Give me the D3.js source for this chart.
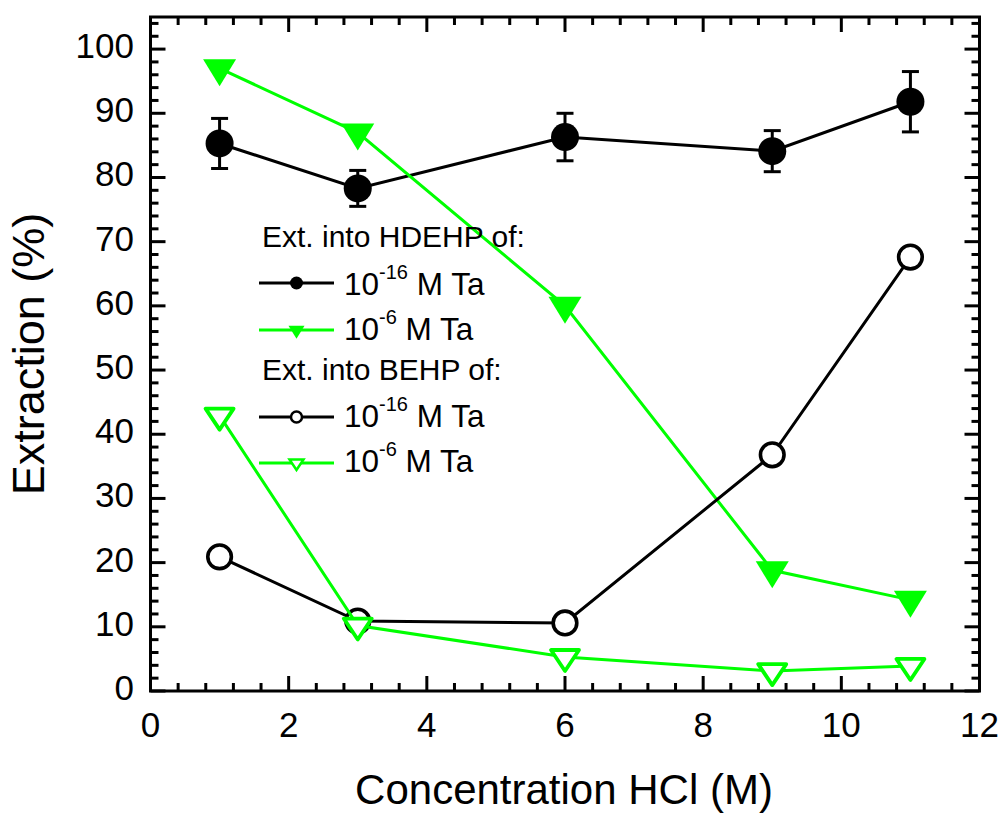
<!DOCTYPE html>
<html><head><meta charset="utf-8">
<script src="https://cdn.jsdelivr.net/npm/d3@7"></script>
<style>
body{margin:0;background:#fff}
svg{display:block}
text{font-family:"Liberation Sans",Arial,Helvetica,sans-serif;fill:#000}
</style>
</head><body>
<svg id="chart" width="1005" height="815"></svg>
<script>
// HCl concentration (M) for every series
const hcl = [1, 3, 6, 9, 11];
// Extraction into HDEHP, carrier-free (1e-16 M) Ta, with error
const hdehpTrace = [85.3, 78.3, 86.3, 84.1, 91.8];
const hdehpTraceErr = [3.9, 2.8, 3.7, 3.2, 4.7];
// Extraction into HDEHP, 1e-6 M Ta
const hdehpMacro = [97.0, 87.0, 60.0, 18.8, 14.2];
// Extraction into BEHP, 1e-16 M Ta
const behpTrace = [20.9, 10.9, 10.6, 36.8, 67.6];
// Extraction into BEHP, 1e-6 M Ta
const behpMacro = [42.9, 10.2, 5.3, 3.1, 3.9];

const xTicks = [0, 2, 4, 6, 8, 10, 12];
const yTicks = [0, 10, 20, 30, 40, 50, 60, 70, 80, 90, 100];
const xLabel = "Concentration HCl (M)";
const yLabel = "Extraction (%)";

const GREEN = "#00ff00";
const svg = d3.select("#chart");

const L = 150.5, R = 979.5, T = 17, B = 691;
const x = d3.scaleLinear().domain([0, 12]).range([L, R]);
const y = d3.scaleLinear().domain([0, 105]).range([B, T]);

// ---- ticks (inward on all four sides) ----
const xMinor = d3.range(0, 12.001, 0.4).map(v => +v.toFixed(2));
const yMinor = d3.range(0, 105, 2);
const tickG = svg.append("g").attr("stroke", "#000").attr("stroke-width", 3);
function isMajorX(v){ return xTicks.some(t => Math.abs(t - v) < 1e-6); }
function isMajorY(v){ return yTicks.some(t => Math.abs(t - v) < 1e-6); }
xMinor.forEach(v => {
  const len = isMajorX(v) ? 15 : 8;
  tickG.append("line").attr("x1", x(v)).attr("x2", x(v)).attr("y1", B).attr("y2", B - len);
  tickG.append("line").attr("x1", x(v)).attr("x2", x(v)).attr("y1", T).attr("y2", T + len);
});
yMinor.forEach(v => {
  const len = isMajorY(v) ? 15 : 8;
  tickG.append("line").attr("y1", y(v)).attr("y2", y(v)).attr("x1", L).attr("x2", L + len);
  tickG.append("line").attr("y1", y(v)).attr("y2", y(v)).attr("x1", R).attr("x2", R - len);
});

// frame
svg.append("rect").attr("x", L).attr("y", T).attr("width", R - L).attr("height", B - T)
  .attr("fill", "none").attr("stroke", "#000").attr("stroke-width", 3);

// tick labels
svg.append("g").selectAll("text").data(xTicks).join("text")
  .attr("x", d => x(d)).attr("y", 737).attr("text-anchor", "middle")
  .attr("font-size", 35).text(d => d);
svg.append("g").selectAll("text").data(yTicks).join("text")
  .attr("x", 134).attr("y", d => y(d) + 9).attr("text-anchor", "end")
  .attr("font-size", 35).text(d => d);

// axis titles
svg.append("text").attr("x", 564).attr("y", 804).attr("text-anchor", "middle")
  .attr("font-size", 42).text(xLabel);
svg.append("text").attr("transform", `translate(44,${(T + B) / 2}) rotate(-90)`)
  .attr("text-anchor", "middle").attr("font-size", 45).text(yLabel);

// ---- markers ----
function downTri(cx, cy, hw, h){
  // centroid placed on the data point
  const top = cy - h / 3, apex = cy + 2 * h / 3;
  return `M${cx - hw},${top}L${cx + hw},${top}L${cx},${apex}Z`;
}
const line = d3.line().x(d => x(d[0])).y(d => y(d[1]));
const pts = vals => hcl.map((h, i) => [h, vals[i]]);

// series 1: HDEHP 1e-16 M (filled black circles with error bars)
svg.append("path").attr("d", line(pts(hdehpTrace))).attr("fill", "none")
  .attr("stroke", "#000").attr("stroke-width", 3);
const eb = svg.append("g").attr("stroke", "#000").attr("stroke-width", 3);
hcl.forEach((h, i) => {
  const cx = x(h), y1 = y(hdehpTrace[i] + hdehpTraceErr[i]), y2 = y(hdehpTrace[i] - hdehpTraceErr[i]);
  eb.append("line").attr("x1", cx).attr("x2", cx).attr("y1", y1).attr("y2", y2);
  eb.append("line").attr("x1", cx - 8.5).attr("x2", cx + 8.5).attr("y1", y1).attr("y2", y1);
  eb.append("line").attr("x1", cx - 8.5).attr("x2", cx + 8.5).attr("y1", y2).attr("y2", y2);
});
svg.append("g").selectAll("circle").data(pts(hdehpTrace)).join("circle")
  .attr("cx", d => x(d[0])).attr("cy", d => y(d[1])).attr("r", 14).attr("fill", "#000");

// series 2: HDEHP 1e-6 M (filled green down-triangles)
svg.append("path").attr("d", line(pts(hdehpMacro))).attr("fill", "none")
  .attr("stroke", GREEN).attr("stroke-width", 3);
svg.append("g").selectAll("path").data(pts(hdehpMacro)).join("path")
  .attr("d", d => downTri(x(d[0]), y(d[1]), 16.5, 27)).attr("fill", GREEN);

// series 3: BEHP 1e-16 M (open black circles)
svg.append("path").attr("d", line(pts(behpTrace))).attr("fill", "none")
  .attr("stroke", "#000").attr("stroke-width", 3);
svg.append("g").selectAll("circle").data(pts(behpTrace)).join("circle")
  .attr("cx", d => x(d[0])).attr("cy", d => y(d[1])).attr("r", 11.8)
  .attr("fill", "#fff").attr("stroke", "#000").attr("stroke-width", 3.6);

// series 4: BEHP 1e-6 M (open green down-triangles)
svg.append("path").attr("d", line(pts(behpMacro))).attr("fill", "none")
  .attr("stroke", GREEN).attr("stroke-width", 3);
svg.append("g").selectAll("path").data(pts(behpMacro)).join("path")
  .attr("d", d => downTri(x(d[0]), y(d[1]), 14, 21)).attr("fill", "#fff")
  .attr("stroke", GREEN).attr("stroke-width", 3.8).attr("stroke-linejoin", "round");

// ---- legend ----
const lg = svg.append("g");
const LX1 = 259, LX2 = 334, MX = 296.5, TX = 344, FS = 30, FSE = 31.5;
lg.append("text").attr("x", 262).attr("y", 247).attr("font-size", FS).text("Ext. into HDEHP of:");
lg.append("text").attr("x", 262).attr("y", 380).attr("font-size", FS).text("Ext. into BEHP of:");

const entries = [
  {cy: 283, color: "#000", kind: "fcircle", exp: "-16", base: 295},
  {cy: 330, color: GREEN, kind: "ftri", exp: "-6", base: 340},
  {cy: 417, color: "#000", kind: "ocircle", exp: "-16", base: 427},
  {cy: 463, color: GREEN, kind: "otri", exp: "-6", base: 472}
];
entries.forEach(e => {
  lg.append("line").attr("x1", LX1).attr("x2", LX2).attr("y1", e.cy).attr("y2", e.cy)
    .attr("stroke", e.color).attr("stroke-width", 3);
  if (e.kind === "fcircle") lg.append("circle").attr("cx", MX).attr("cy", e.cy).attr("r", 6.5).attr("fill", "#000");
  if (e.kind === "ocircle") lg.append("circle").attr("cx", MX).attr("cy", e.cy).attr("r", 5.5)
    .attr("fill", "#fff").attr("stroke", "#000").attr("stroke-width", 2.5);
  if (e.kind === "ftri") lg.append("path").attr("d", downTri(MX, e.cy, 8, 13)).attr("fill", GREEN);
  if (e.kind === "otri") lg.append("path").attr("d", downTri(MX, e.cy, 7, 10.5)).attr("fill", "#fff")
    .attr("stroke", GREEN).attr("stroke-width", 2.5);
  const t = lg.append("text").attr("x", TX).attr("y", e.base).attr("font-size", FSE);
  t.append("tspan").text("10");
  t.append("tspan").attr("font-size", 20).attr("dy", -16).text(e.exp);
  t.append("tspan").attr("dy", 16).text(" M Ta");
});
</script>
</body></html>
